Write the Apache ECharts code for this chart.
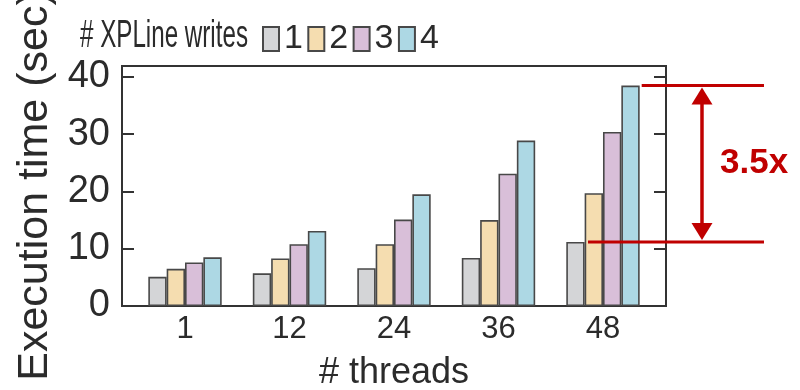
<!DOCTYPE html>
<html>
<head>
<meta charset="utf-8">
<script src="https://cdn.jsdelivr.net/npm/echarts@6/dist/echarts.min.js"></script>
<style>html,body{margin:0;padding:0;background:#fff;}#c{width:800px;height:390px;}</style>
</head>
<body>
<div id="c"></div>
<script>
const categories = ['1', '12', '24', '36', '48'];
const seriesNames = ['1', '2', '3', '4'];
const writes1 = [5.1, 5.7, 6.6, 8.4, 11.2];
const writes2 = [6.5, 8.3, 10.8, 15.0, 19.7];
const writes3 = [7.6, 10.8, 15.1, 23.1, 30.4];
const writes4 = [8.5, 13.1, 19.5, 28.9, 38.5];
const yTicks = [0, 10, 20, 30, 40];
const xTicks = [0, 1, 2, 3, 4];
const legendTitle = '# XPLine writes';
const ratioLabel = '3.5x';

const colors = ['#d4d5d7', '#f5ddb0', '#d9bfd9', '#add8e4'];
const allSeries = [writes1, writes2, writes3, writes4];
const BW = 18.35;
const mainFont = "'Liberation Sans', Arial, sans-serif";
const ink = '#2b2b2b';

const chart = echarts.init(document.getElementById('c'), null, {renderer: 'canvas'});
const option = {
  animation: false,
  backgroundColor: '#fff',
  legend: {
    left: 262, top: 22, padding: 0, itemWidth: 16, itemHeight: 24, itemGap: 4.4,
    icon: 'rect',
    textStyle: {fontFamily: mainFont, fontSize: 34, color: ink},
    data: seriesNames
  },
  grid: {left: 122, top: 66, width: 544, height: 240, show: true, borderColor: '#333', borderWidth: 2,
         containLabel: false, outerBoundsMode: 'none'},
  xAxis: {
    type: 'value', min: -0.603, max: 4.603,
    axisLine: {show: false, onZero: false}, axisTick: {show: false}, splitLine: {show: false},
    axisLabel: {customValues: xTicks, formatter: v => categories[Math.round(v)], fontFamily: mainFont, fontSize: 31, color: ink, margin: 8},
    name: '# threads', nameLocation: 'middle', nameGap: 49,
    nameTextStyle: {fontFamily: mainFont, fontSize: 36, color: ink}
  },
  yAxis: [{
    type: 'value', min: 0, max: 41.92, position: 'left',
    axisLine: {show: false, onZero: false}, splitLine: {show: false},
    axisTick: {show: true, inside: true, length: 12, customValues: yTicks, lineStyle: {color: '#333', width: 2}},
    axisLabel: {customValues: yTicks, fontFamily: mainFont, fontSize: 38, color: ink, margin: 12},
    name: 'Execution time (sec)', nameLocation: 'middle', nameGap: 64,
    nameTextStyle: {fontFamily: mainFont, fontSize: 43, color: ink}
  }, {
    type: 'value', min: 0, max: 41.92, position: 'right',
    axisLine: {show: false, onZero: false}, splitLine: {show: false},
    axisTick: {show: true, inside: true, length: 12, customValues: yTicks, lineStyle: {color: '#333', width: 2}},
    axisLabel: {show: false}
  }],
  series: allSeries.map((vals, k) => ({
    name: seriesNames[k], type: 'bar', barWidth: BW, barGap: '0%',
    itemStyle: {color: colors[k], borderColor: '#484848', borderWidth: 1.6},
    data: vals.map((v, i) => [xTicks[i], v])
  }))
};
chart.setOption(option);

// annotation derived from the chart's own scales
const last = categories.length - 1;
const pTop = chart.convertToPixel({gridIndex: 0}, [xTicks[last], writes4[last]]);
const pBot = chart.convertToPixel({gridIndex: 0}, [xTicks[last], writes1[last]]);
const cx = pTop[0], yTop = pTop[1], yBot = pBot[1];
const ax = cx + 99;
const red = '#c00000';
chart.setOption({
  graphic: [
    {type: 'text', x: 80, y: 36, scaleX: 0.62, style: {text: legendTitle, fill: ink, font: "39px 'Liberation Sans', Arial, sans-serif", textVerticalAlign: 'middle', textAlign: 'left'}},
    {type: 'line', shape: {x1: cx + 2 * BW + 2, y1: yTop, x2: cx + 161, y2: yTop}, style: {stroke: red, lineWidth: 3}, z: 100},
    {type: 'line', shape: {x1: cx - 15, y1: yBot, x2: cx + 161, y2: yBot}, style: {stroke: red, lineWidth: 3}, z: 100},
    {type: 'line', shape: {x1: ax, y1: yTop + 14, x2: ax, y2: yBot - 14}, style: {stroke: red, lineWidth: 3.5}, z: 100},
    {type: 'polygon', shape: {points: [[ax, yTop + 2], [ax - 10.5, yTop + 19], [ax + 10.5, yTop + 19]]}, style: {fill: red}, z: 100},
    {type: 'polygon', shape: {points: [[ax, yBot - 2], [ax - 10.5, yBot - 19], [ax + 10.5, yBot - 19]]}, style: {fill: red}, z: 100},
    {type: 'text', x: cx + 117, y: (yTop + yBot) / 2, style: {text: ratioLabel, fill: red, font: "bold 35px 'Liberation Sans', Arial, sans-serif", textVerticalAlign: 'middle', textAlign: 'left'}, z: 100}
  ]
});
</script>
</body>
</html>
